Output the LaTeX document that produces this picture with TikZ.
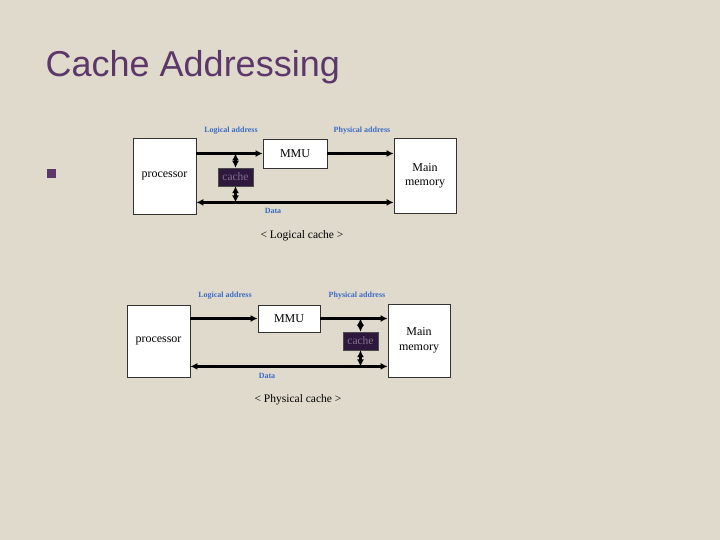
\documentclass[tikz,border=0pt]{standalone}
\usepackage{fontspec}
\setmainfont{Liberation Serif}
\newfontfamily\titlefont{Liberation Sans}
\usetikzlibrary{arrows.meta, positioning, calc}
\definecolor{slidebg}{RGB}{224,218,205}
\definecolor{titlepurple}{RGB}{92,56,106}
\definecolor{cachefill}{RGB}{46,24,62}
\definecolor{cachetext}{RGB}{130,112,140}
\definecolor{labelblue}{RGB}{58,108,196}
\tikzstyle{unit} = [rectangle, draw=black!80, fill=white, line width=0.8pt, inner sep=0pt, align=center, font=\fontsize{12}{14.5}\selectfont]
\tikzstyle{cachebox} = [rectangle, draw=black!70, fill=cachefill, text=cachetext, minimum width=35pt, minimum height=18pt, inner sep=0pt, font=\fontsize{11.5}{12}\selectfont]
\tikzstyle{bus} = [line width=2.6pt, -{Latex[length=7pt,width=7pt]}]
\tikzstyle{twoway} = [line width=2.6pt, {Latex[length=7pt,width=7pt]}-{Latex[length=7pt,width=7pt]}]
\tikzstyle{tag} = [text=labelblue, font=\bfseries\fontsize{8}{8}\selectfont, inner sep=0pt]
\tikzstyle{caption} = [font=\fontsize{11.5}{12}\selectfont, inner sep=0pt]

\begin{document}
\begin{tikzpicture}[x=1pt, y=-1pt]
  \fill[slidebg] (0,0) rectangle (720,540);
  \useasboundingbox (0,0) rectangle (720,540);

  % title and bullet
  \node[anchor=base west, inner sep=0pt, text=titlepurple, font=\titlefont\fontsize{36}{36}\selectfont] (title) at (45.5,77) {Cache Addressing};
  \node[fill=titlepurple, minimum size=9pt, inner sep=0pt] (bullet) at (51.5,173.5) {};

  % logical cache
  \node[unit, minimum width=63pt, minimum height=76pt] (proc1) at (164.5,176) {processor};
  \node[unit, minimum width=64pt, minimum height=29pt] (mmu1) at (295,153.5) {MMU};
  \node[unit, minimum width=62pt, minimum height=75pt] (mem1) at (425,176) {Main\\memory};
  \node[cachebox] (cache1) at (235.5,177) {cache};
  \coordinate (data1) at ([yshift=12pt]proc1.south east);

  \draw[bus] (proc1.east |- mmu1.west) -- (mmu1.west);
  \draw[bus] (mmu1.east) -- (mmu1.east -| mem1.west);
  \draw[twoway] (data1) -- (data1 -| mem1.west);
  \draw[twoway] (cache1.north) -- (cache1.north |- mmu1.west);
  \draw[twoway] (cache1.south) -- (cache1.south |- data1);

  \node[tag] (log1) at (231,131) {Logical address};
  \node[tag] (phy1) at (362,131) {Physical address};
  \node[tag] (dat1) at (273,211) {Data};
  \node[caption] (cap1) at (302,236) {< Logical cache >};

  % physical cache
  \node[unit, minimum width=63pt, minimum height=72pt] (proc2) at (158.5,341) {processor};
  \node[unit, minimum width=62pt, minimum height=27pt] (mmu2) at (289,318.5) {MMU};
  \node[unit, minimum width=62pt, minimum height=73pt] (mem2) at (419,340.5) {Main\\memory};
  \node[cachebox] (cache2) at (360.5,341) {cache};
  \coordinate (data2) at ([yshift=11pt]proc2.south east);

  \draw[bus] (proc2.east |- mmu2.west) -- (mmu2.west);
  \draw[bus] (mmu2.east) -- (mmu2.east -| mem2.west);
  \draw[twoway] (data2) -- (data2 -| mem2.west);
  \draw[twoway] (cache2.north) -- (cache2.north |- mmu2.east);
  \draw[twoway] (cache2.south) -- (cache2.south |- data2);

  \node[tag] (log2) at (225,296) {Logical address};
  \node[tag] (phy2) at (357,296) {Physical address};
  \node[tag] (dat2) at (267,376) {Data};
  \node[caption] (cap2) at (298,400) {< Physical cache >};
\end{tikzpicture}
\end{document}
